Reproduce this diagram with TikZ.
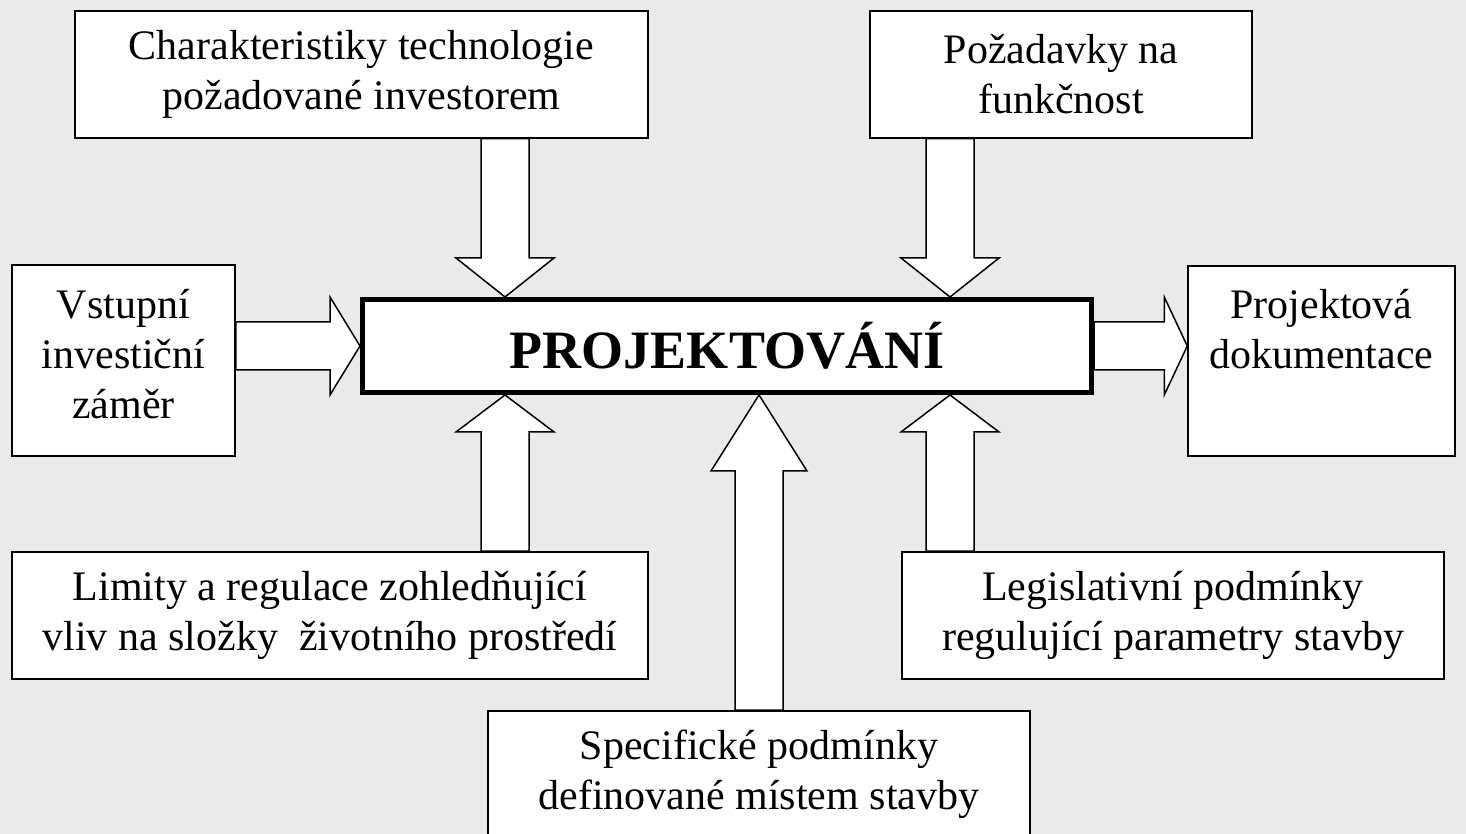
\documentclass[tikz,border=0pt]{standalone}
\usepackage{fontspec}
\setmainfont{Liberation Serif}
\usetikzlibrary{calc, positioning}
\definecolor{bggray}{RGB}{234,234,234}

\tikzset{blk/.style 2 args={draw, fill=white, line width=1.5pt, line join=miter,
  to path={let \p1=(\tikztostart), \p2=(\tikztotarget),
      \n1={veclen(\x2-\x1,\y2-\y1)},
      \n2={(\x2-\x1)/\n1}, \n3={(\y2-\y1)/\n1}
    in ({\x1-24*\n3},{\y1+24*\n2})
    -- ({\x2-#1*\n2-24*\n3},{\y2-#1*\n3+24*\n2})
    -- ({\x2-#1*\n2-#2*\n3},{\y2-#1*\n3+#2*\n2})
    -- (\x2,\y2)
    -- ({\x2-#1*\n2+#2*\n3},{\y2-#1*\n3-#2*\n2})
    -- ({\x2-#1*\n2+24*\n3},{\y2-#1*\n3-24*\n2})
    -- ({\x1+24*\n3},{\y1-24*\n2}) -- cycle}}}

\begin{document}
\begin{tikzpicture}[x=1pt, y=1pt]
    \tikzstyle{box} = [draw, fill=white, line width=1.5pt, align=center,
	inner sep=0pt, font=\fontsize{42}{50}\selectfont]

    \clip (0,0) rectangle (1466,834);
    \fill[bggray] (0,0) rectangle (1466,834);

    % boxes
    \node[draw, fill=white, line width=5pt, minimum width=729, minimum height=93,
	font=\fontsize{54}{60}\selectfont\bfseries] (proj) at (727,488) {PROJEKTOVÁNÍ};
    \node[box, minimum width=573, minimum height=127] (tech) at (361.5,759.5)
	{Charakteristiky technologie\\požadované investorem};
    \node[box, minimum width=382, minimum height=127] (func) at (1061,759.5)
	{Požadavky na\\funkčnost};
    \node[box, minimum width=223, minimum height=191, text depth=14] (vstup) at (123.5,473.5)
	{Vstupní\\investiční\\záměr};
    \node[box, minimum width=267, minimum height=190] (dok) at (1321.5,473)
	{Projektová\\dokumentace\\\strut};
    \node[box, minimum width=636, minimum height=127] (limity) at (330,218.5)
	{Limity a regulace zohledňující\\vliv na složky~ životního prostředí};
    \node[box, minimum width=542, minimum height=127] (legis) at (1173,218.5)
	{Legislativní podmínky\\regulující parametry stavby};
    \node[box, minimum width=542, minimum height=127] (spec) at (759,59.5)
	{Specifické podmínky\\definované místem stavby};

    \coordinate (tl) at ($(proj.north west)+(145,0)$);
    \coordinate (tr) at ($(proj.north east)+(-144,0)$);
    \coordinate (bl) at ($(proj.south west)+(145,0)$);
    \coordinate (br) at ($(proj.south east)+(-144,0)$);

    % block arrows
    \draw[blk={39}{49}] (tech.south -| tl) to (tl);
    \draw[blk={39}{49}] (func.south -| tr) to (tr);
    \draw[blk={30}{49}] (vstup.east |- proj.west) to (proj.west);
    \draw[blk={23}{49}] (proj.east) to (dok.west |- proj.east);
    \draw[blk={37}{49}] (limity.north -| bl) to (bl);
    \draw[blk={37}{49}] (legis.north -| br) to (br);
    \draw[blk={76}{48}] (spec.north) to (spec.north |- proj.south);

\end{tikzpicture}
\end{document}
